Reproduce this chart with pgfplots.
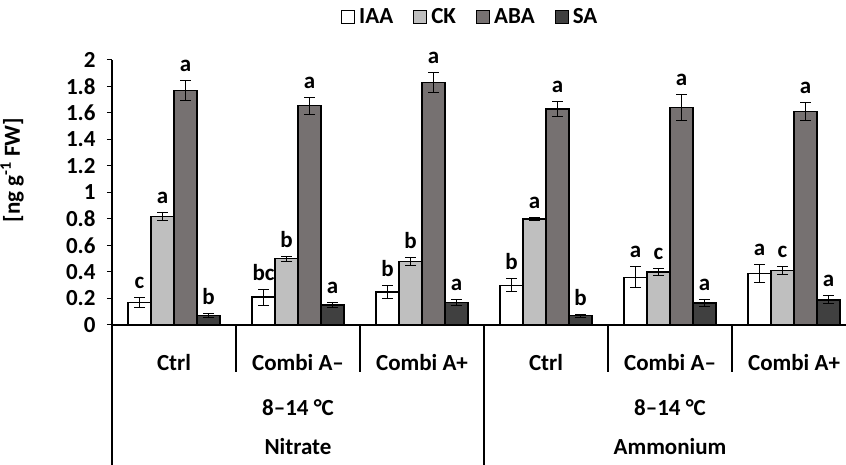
\documentclass[border=0pt]{standalone}
\usepackage{pgfplots}
\usepackage{pgfplotstable}
\pgfplotsset{compat=1.18}
\usepackage{fontspec}
\setmainfont{Carlito}
\newcommand\cf{\fontsize{23}{27}\selectfont\bfseries}
\definecolor{ckc}{RGB}{191,191,191}
\definecolor{abac}{RGB}{118,113,113}
\definecolor{sac}{RGB}{64,64,64}

\pgfplotstableread{
x y e lab
0 0.17 0.04 c
1 0.21 0.06 bc
2 0.25 0.05 b
3 0.30 0.05 b
4 0.36 0.08 a
5 0.39 0.07 a
}\iaa
\pgfplotstableread{
x y e lab
0 0.82 0.03 a
1 0.50 0.02 b
2 0.48 0.03 b
3 0.80 0.015 a
4 0.40 0.025 c
5 0.41 0.03 c
}\ck
\pgfplotstableread{
x y e lab
0 1.77 0.075 a
1 1.655 0.065 a
2 1.83 0.075 a
3 1.63 0.06 a
4 1.64 0.10 a
5 1.61 0.07 a
}\aba
\pgfplotstableread{
x y e lab
0 0.07 0.015 b
1 0.15 0.02 a
2 0.17 0.025 a
3 0.07 0.012 b
4 0.165 0.025 a
5 0.19 0.03 a
}\sa

\begin{document}
\begin{tikzpicture}[font=\cf]
\begin{axis}[
  at={(112pt,140pt)}, anchor=south west,
  scale only axis, width=734pt, height=265pt,
  xmin=-0.5, xmax=5.419, ymin=0, ymax=2,
  clip=false,
  axis x line*=bottom, axis y line*=left,
  axis line style={line width=1.2pt, black, -},
  ytick={0,0.2,0.4,0.6,0.8,1,1.2,1.4,1.6,1.8,2},
  tick align=outside, major tick length=5pt,
  tick style={line width=1pt, black},
  /pgf/number format/assume math mode=true,
  tick label style={font=\cf},
  yticklabel style={xshift=-8pt},
  xtick={0,1,2,3,4,5},
  xticklabels={Ctrl,Combi A–,Combi A+,Ctrl,Combi A–,Combi A+},
  x tick style={draw=none},
  xticklabel style={anchor=center, yshift=-33pt},
  ylabel={[ng g\textsuperscript{-1} FW]},
  ylabel style={at={(axis description cs:-0.1362,0.585)}, anchor=center, font=\cf},
  ybar=0pt, bar width=23pt,
  every axis plot/.append style={draw=black, line width=1.4pt},
  error bars/y dir=both, error bars/y explicit,
  error bars/error bar style={line width=1pt, black},
  error bars/error mark options={rotate=90, mark size=5.5pt, line width=1pt, black},
  point meta=explicit symbolic,
  nodes near coords,
  visualization depends on={\thisrow{e} \as \myerr},
  nodes near coords style={anchor=south, font=\cf, inner sep=2pt, yshift=\myerr*132.5pt+6pt},
  legend columns=4,
  legend style={at={(0.488,1.162)}, anchor=center, draw=none, fill=none, font=\cf,
    /tikz/every even column/.append style={column sep=18pt},
    /tikz/every odd column/.append style={column sep=2pt}},
  legend image code/.code={\draw[#1, line width=1.1pt, draw=black] (0pt,-6.5pt) rectangle (13pt,6.5pt);},
]
\addplot[fill=white] table[x=x, y=y, y error=e, meta=lab]{\iaa};
\addplot[fill=ckc] table[x=x, y=y, y error=e, meta=lab]{\ck};
\addplot[fill=abac] table[x=x, y=y, y error=e, meta=lab]{\aba};
\addplot[fill=sac] table[x=x, y=y, y error=e, meta=lab]{\sa};
\legend{IAA,CK,ABA,SA}
\draw[line width=1.2pt] (axis cs:0.5,0) -- ([yshift=-47pt]axis cs:0.5,0);
\draw[line width=1.2pt] (axis cs:1.5,0) -- ([yshift=-47pt]axis cs:1.5,0);
\draw[line width=1.2pt] (axis cs:3.5,0) -- ([yshift=-47pt]axis cs:3.5,0);
\draw[line width=1.2pt] (axis cs:4.5,0) -- ([yshift=-47pt]axis cs:4.5,0);
\draw[line width=1.2pt] (axis cs:-0.5,0) -- ([yshift=-140pt]axis cs:-0.5,0);
\draw[line width=1.2pt] (axis cs:2.5,0) -- ([yshift=-140pt]axis cs:2.5,0);
\node[font=\cf] at ([yshift=-83pt]axis cs:1,0) {8–14 °C};
\node[font=\cf] at ([yshift=-83pt]axis cs:4,0) {8–14 °C};
\node[font=\cf] at ([yshift=-122pt]axis cs:1,0) {Nitrate};
\node[font=\cf] at ([yshift=-122pt]axis cs:4,0) {Ammonium};
\end{axis}
\pgfresetboundingbox
\path (0,0) rectangle (846pt,465pt);
\end{tikzpicture}
\end{document}
